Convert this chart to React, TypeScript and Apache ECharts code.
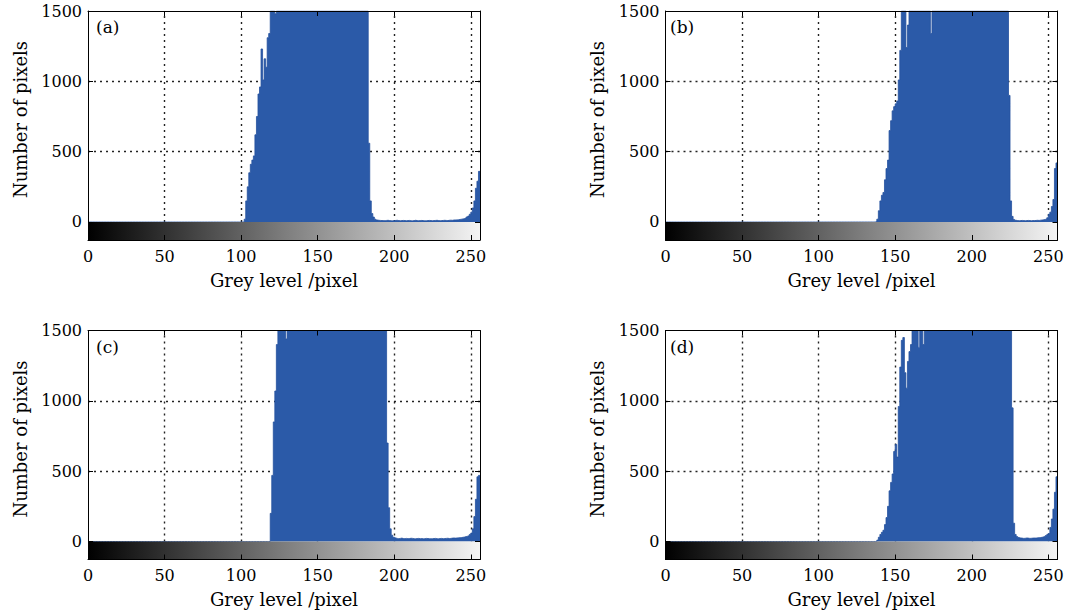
import { useEffect, useRef } from "react";
import * as echarts from "echarts";

// Grey-level bins 0..255 (one value per bin; values above 1500 are cut at the frame)
const histA = [
  0, 0, 0, 0, 0, 0, 0, 0, 0, 0, 0, 0, 0, 0, 0, 0,
  0, 0, 0, 0, 0, 0, 0, 0, 0, 0, 0, 0, 0, 0, 0, 0,
  0, 0, 0, 0, 0, 0, 0, 0, 0, 0, 0, 0, 0, 0, 0, 0,
  0, 0, 0, 0, 0, 0, 0, 0, 0, 0, 0, 0, 0, 0, 0, 0,
  0, 0, 0, 0, 0, 0, 0, 0, 0, 0, 0, 0, 0, 0, 0, 0,
  0, 0, 0, 0, 0, 0, 0, 0, 0, 0, 0, 0, 0, 0, 0, 0,
  0, 0, 0, 0, 0, 0, 20, 150, 250, 350, 410, 440, 470, 620, 750, 910,
  960, 1230, 1010, 1160, 1100, 1310, 1340, 1500, 1500, 1500, 1480, 1500, 1500, 1500, 1500, 1500,
  1500, 1500, 1500, 1500, 1500, 1500, 1500, 1500, 1500, 1500, 1500, 1500, 1500, 1500, 1500, 1500,
  1500, 1500, 1500, 1500, 1500, 1500, 1500, 1500, 1500, 1500, 1500, 1500, 1500, 1500, 1500, 1500,
  1500, 1500, 1500, 1500, 1500, 1500, 1500, 1500, 1500, 1500, 1500, 1500, 1500, 1500, 1500, 1500,
  1500, 1500, 1500, 1500, 1500, 1500, 1500, 560, 150, 60, 35, 20, 14, 12, 11, 10,
  10, 9, 11, 12, 10, 9, 8, 10, 11, 12, 10, 9, 10, 11, 10, 9,
  10, 11, 9, 8, 10, 12, 10, 9, 10, 11, 10, 8, 9, 10, 11, 10,
  9, 10, 11, 12, 10, 9, 10, 11, 12, 11, 10, 12, 13, 12, 14, 15,
  15, 16, 18, 20, 22, 25, 30, 36, 42, 55, 70, 100, 150, 240, 290, 360,
];

const histB = [
  0, 0, 0, 0, 0, 0, 0, 0, 0, 0, 0, 0, 0, 0, 0, 0,
  0, 0, 0, 0, 0, 0, 0, 0, 0, 0, 0, 0, 0, 0, 0, 0,
  0, 0, 0, 0, 0, 0, 0, 0, 0, 0, 0, 0, 0, 0, 0, 0,
  0, 0, 0, 0, 0, 0, 0, 0, 0, 0, 0, 0, 0, 0, 0, 0,
  0, 0, 0, 0, 0, 0, 0, 0, 0, 0, 0, 0, 0, 0, 0, 0,
  0, 0, 0, 0, 0, 0, 0, 0, 0, 0, 0, 0, 0, 0, 0, 0,
  0, 0, 0, 0, 0, 0, 0, 0, 0, 0, 0, 0, 0, 0, 0, 0,
  0, 0, 0, 0, 0, 0, 0, 0, 0, 0, 0, 0, 0, 0, 0, 0,
  0, 0, 0, 0, 0, 0, 0, 0, 0, 5, 20, 80, 150, 190, 210, 300,
  380, 440, 650, 720, 790, 820, 840, 860, 1010, 1220, 1500, 1500, 1500, 1240, 1400, 1500,
  1500, 1500, 1500, 1500, 1500, 1500, 1500, 1500, 1500, 1500, 1500, 1500, 1500, 1340, 1500, 1500,
  1500, 1500, 1500, 1500, 1500, 1500, 1500, 1500, 1500, 1500, 1500, 1500, 1500, 1500, 1500, 1500,
  1500, 1500, 1500, 1500, 1500, 1500, 1500, 1500, 1500, 1500, 1500, 1500, 1500, 1500, 1500, 1500,
  1500, 1500, 1500, 1500, 1500, 1500, 1500, 1500, 1500, 1500, 1500, 1500, 1500, 1500, 1500, 1500,
  900, 150, 40, 18, 12, 10, 9, 10, 11, 10, 9, 10, 11, 10, 9, 10,
  10, 11, 12, 11, 13, 14, 16, 18, 22, 30, 55, 70, 110, 160, 380, 420,
];

const histC = [
  0, 0, 0, 0, 0, 0, 0, 0, 0, 0, 0, 0, 0, 0, 0, 0,
  0, 0, 0, 0, 0, 0, 0, 0, 0, 0, 0, 0, 0, 0, 0, 0,
  0, 0, 0, 0, 0, 0, 0, 0, 0, 0, 0, 0, 0, 0, 0, 0,
  0, 0, 0, 0, 0, 0, 0, 0, 0, 0, 0, 0, 0, 0, 0, 0,
  0, 0, 0, 0, 0, 0, 0, 0, 0, 0, 0, 0, 0, 0, 0, 0,
  0, 0, 0, 0, 0, 0, 0, 0, 0, 0, 0, 0, 0, 0, 0, 0,
  0, 0, 0, 0, 0, 0, 0, 0, 0, 0, 0, 0, 0, 0, 0, 0,
  0, 0, 0, 0, 0, 0, 0, 200, 470, 850, 1070, 1400, 1500, 1500, 1500, 1500,
  1500, 1440, 1500, 1500, 1500, 1500, 1500, 1500, 1500, 1500, 1500, 1500, 1500, 1500, 1500, 1500,
  1500, 1500, 1500, 1500, 1500, 1500, 1500, 1500, 1500, 1500, 1500, 1500, 1500, 1500, 1500, 1500,
  1500, 1500, 1500, 1500, 1500, 1500, 1500, 1500, 1500, 1500, 1500, 1500, 1500, 1500, 1500, 1500,
  1500, 1500, 1500, 1500, 1500, 1500, 1500, 1500, 1500, 1500, 1500, 1500, 1500, 1500, 1500, 1500,
  1500, 1500, 1500, 700, 240, 90, 45, 30, 25, 22, 20, 22, 24, 21, 20, 22,
  20, 21, 23, 22, 20, 19, 21, 22, 20, 21, 19, 20, 22, 21, 20, 19,
  20, 21, 22, 20, 19, 21, 22, 20, 21, 22, 23, 21, 22, 24, 25, 24,
  25, 26, 27, 28, 30, 32, 35, 38, 42, 50, 60, 90, 177, 300, 460, 470,
];

const histD = [
  0, 0, 0, 0, 0, 0, 0, 0, 0, 0, 0, 0, 0, 0, 0, 0,
  0, 0, 0, 0, 0, 0, 0, 0, 0, 0, 0, 0, 0, 0, 0, 0,
  0, 0, 0, 0, 0, 0, 0, 0, 0, 0, 0, 0, 0, 0, 0, 0,
  0, 0, 0, 0, 0, 0, 0, 0, 0, 0, 0, 0, 0, 0, 0, 0,
  0, 0, 0, 0, 0, 0, 0, 0, 0, 0, 0, 0, 0, 0, 0, 0,
  0, 0, 0, 0, 0, 0, 0, 0, 0, 0, 0, 0, 0, 0, 0, 0,
  0, 0, 0, 0, 0, 0, 0, 0, 0, 0, 0, 0, 0, 0, 0, 0,
  0, 0, 0, 0, 0, 0, 0, 0, 0, 0, 0, 0, 0, 0, 0, 0,
  0, 0, 0, 0, 0, 0, 0, 0, 0, 0, 10, 30, 50, 65, 80, 120,
  170, 250, 360, 420, 480, 640, 690, 600, 960, 1240, 1430, 1450, 1200, 1090, 1280, 1350,
  1400, 1500, 1500, 1500, 1500, 1380, 1500, 1500, 1400, 1500, 1500, 1500, 1500, 1500, 1500, 1500,
  1500, 1500, 1500, 1500, 1500, 1500, 1500, 1500, 1500, 1500, 1500, 1500, 1500, 1500, 1500, 1500,
  1500, 1500, 1500, 1500, 1500, 1500, 1500, 1500, 1500, 1500, 1500, 1500, 1500, 1500, 1500, 1500,
  1500, 1500, 1500, 1500, 1500, 1500, 1500, 1500, 1500, 1500, 1500, 1500, 1500, 1500, 1500, 1500,
  1500, 1500, 950, 130, 50, 35, 28, 25, 24, 22, 23, 25, 24, 22, 23, 24,
  25, 24, 26, 27, 28, 30, 33, 36, 42, 50, 57, 100, 160, 230, 350, 460,
];

const panelLabels = ["(a)", "(b)", "(c)", "(d)"];
const xTicks = [0, 50, 100, 150, 200, 250];
const yTicks = [0, 500, 1000, 1500];
const xGridLines = [50, 100, 150, 200, 250];
const yGridLines = [500, 1000];
const xMin = 0;
const xMax = 256;
const yMin = -128;
const yMax = 1500;
const xName = "Grey level /pixel";
const yName = "Number of pixels";

const histograms = [histA, histB, histC, histD];

const gridBoxes = [
  { left: 88, top: 11, width: 392, height: 229 },
  { left: 665.5, top: 11, width: 392, height: 229 },
  { left: 88, top: 330.5, width: 392, height: 229 },
  { left: 665.5, top: 330.5, width: 392, height: 229 },
];
const labelPos = [
  [96, 26.5],
  [670, 26.5],
  [96, 346.5],
  [670, 346.5],
];

export default function App() {
  const ref = useRef<HTMLDivElement>(null);

  useEffect(() => {
    if (!ref.current) return;
    const chart = echarts.init(ref.current, null, { renderer: "svg" });
    const font = "'DejaVu Serif', 'Liberation Serif', serif";
    const textColor = "#000000";
    const blue = "#2b5aa8";
    const edge = "#24509e";
    const dotted = { type: [2, 4] as number[], width: 1.4, color: "#222" };
    const plain = (v: number) => String(v);

    const grids: any[] = [];
    const xAxes: any[] = [];
    const yAxes: any[] = [];
    const series: any[] = [];
    const graphics: any[] = [];

    histograms.forEach((hist, i) => {
      const box = gridBoxes[i];
      grids.push({ ...box, containLabel: false, outerBoundsMode: "none" });

      const common = { gridIndex: i, type: "value", min: xMin, max: xMax, z: 10 };
      xAxes.push({
        ...common,
        position: "bottom",
        axisLine: { show: true, onZero: false, lineStyle: { color: "#000", width: 1 } },
        axisTick: { show: true, inside: true, length: 5, customValues: xTicks, lineStyle: { color: "#000" } },
        axisLabel: { show: true, customValues: xTicks, formatter: plain, margin: 8, fontFamily: font, fontSize: 16, color: textColor },
        splitLine: { show: false },
        name: xName,
        nameLocation: "middle",
        nameGap: 31,
        nameTextStyle: { fontFamily: font, fontSize: 18, color: textColor },
      });
      xAxes.push({
        ...common,
        position: "top",
        axisLine: { show: true, onZero: false, lineStyle: { color: "#000", width: 1 } },
        axisTick: { show: true, inside: true, length: 5, customValues: xTicks, lineStyle: { color: "#000" } },
        axisLabel: { show: false },
        splitLine: { show: false },
      });

      const ycommon = { gridIndex: i, type: "value", min: yMin, max: yMax, z: 10 };
      yAxes.push({
        ...ycommon,
        position: "left",
        axisLine: { show: true, onZero: false, lineStyle: { color: "#000", width: 1 } },
        axisTick: { show: true, inside: true, length: 5, customValues: yTicks, lineStyle: { color: "#000" } },
        axisLabel: { show: true, customValues: yTicks, formatter: plain, margin: 6, fontFamily: font, fontSize: 16, color: textColor },
        splitLine: { show: false },
        name: yName,
        nameLocation: "middle",
        nameGap: 59,
        nameRotate: 90,
        nameTextStyle: { fontFamily: font, fontSize: 18, color: textColor, padding: [0, 0, 0, 12] },
      });
      yAxes.push({
        ...ycommon,
        position: "right",
        axisLine: { show: true, onZero: false, lineStyle: { color: "#000", width: 1 } },
        axisTick: { show: true, inside: true, length: 5, customValues: yTicks, lineStyle: { color: "#000" } },
        axisLabel: { show: false },
        splitLine: { show: false },
      });

      // Histogram drawn as a stepped filled outline: each bin g covers [g, g+1]
      const stepData = hist.map((v, g) => [g, v]);
      stepData.push([xMax, hist[hist.length - 1]]);

      series.push({
        type: "line",
        name: panelLabels[i],
        xAxisIndex: 2 * i,
        yAxisIndex: 2 * i,
        data: stepData,
        step: "end",
        symbol: "none",
        showSymbol: false,
        lineStyle: { color: edge, width: 0.8 },
        areaStyle: { color: blue, opacity: 1, origin: 0 },
        silent: true,
        clip: true,
        z: 2,
        markLine: {
          z: 1,
          silent: true,
          symbol: "none",
          label: { show: false },
          lineStyle: dotted,
          data: [
            ...xGridLines.map((x) => ({ xAxis: x })),
            ...yGridLines.map((y) => ({ yAxis: y })),
          ],
        },
        markArea: {
          z: 3,
          silent: true,
          label: { show: false },
          itemStyle: {
            color: new echarts.graphic.LinearGradient(0, 0, 1, 0, [
              { offset: 0, color: "#000000" },
              { offset: 0.5, color: "#7d7d7d" },
              { offset: 1, color: "#f4f4f4" },
            ]),
          },
          data: [[{ xAxis: xMin, yAxis: yMin }, { xAxis: xMax, yAxis: 0 }]],
        },
      });

      graphics.push({
        type: "text",
        x: labelPos[i][0],
        y: labelPos[i][1],
        z: 20,
        style: {
          text: panelLabels[i],
          fill: textColor,
          fontFamily: font,
          fontSize: 17,
          verticalAlign: "middle",
        },
      });
    });

    chart.setOption({
      animation: false,
      backgroundColor: "#ffffff",
      grid: grids,
      xAxis: xAxes,
      yAxis: yAxes,
      series,
      graphic: graphics,
    });

    return () => chart.dispose();
  }, []);

  return (
    <div
      ref={ref}
      style={{ position: "absolute", left: 0, top: 0, width: 1067, height: 615 }}
    />
  );
}
